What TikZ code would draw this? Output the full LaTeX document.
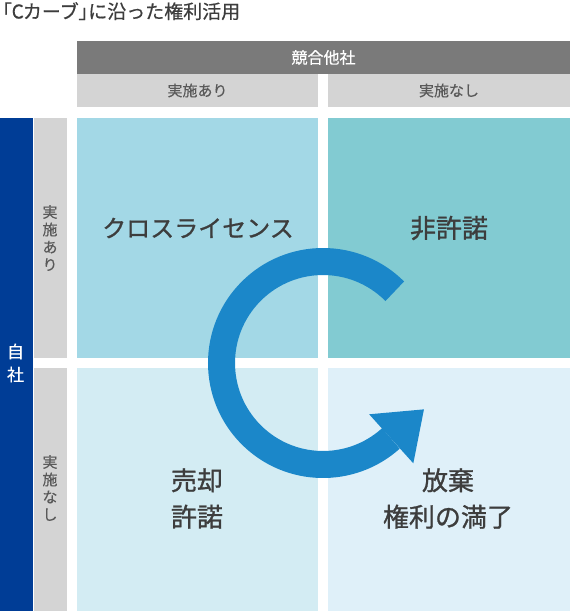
\documentclass[tikz,border=0pt]{standalone}
\usepackage{fontspec}
\setmainfont{Noto Sans CJK JP}
\newfontfamily\titlefont[FakeBold=0.6]{Noto Sans CJK JP}
\newfontfamily\bracketfont[FakeBold=0.6, RawFeature=+palt]{Noto Sans CJK JP}
\newfontfamily\labelfont[FakeBold=1.0]{Noto Sans CJK JP}
\newfontfamily\headfont[FakeBold=0.3]{Noto Sans CJK JP}
\usetikzlibrary{calc}

\definecolor{headdark}{RGB}{122,122,122}
\definecolor{headlight}{RGB}{212,212,212}
\definecolor{ownblue}{RGB}{0,61,150}
\definecolor{cellTL}{RGB}{163,216,230}
\definecolor{cellTR}{RGB}{130,203,210}
\definecolor{cellBL}{RGB}{211,236,243}
\definecolor{cellBR}{RGB}{223,240,249}
\definecolor{arrowblue}{RGB}{27,135,201}
\definecolor{labeltext}{RGB}{61,61,61}
\definecolor{subtext}{RGB}{89,89,89}

\tikzset{
  box/.style={draw=none, inner sep=0pt, outer sep=0pt},
  celllabel/.style={text=labeltext, align=center, inner sep=0pt,
    font=\labelfont\fontsize{26}{36.5}\selectfont},
  subhead/.style={text=subtext, align=center, inner sep=0pt,
    font=\headfont\fontsize{15}{17.5}\selectfont},
}

\begin{document}
\begin{tikzpicture}[x=1pt,y=-1pt]
\useasboundingbox (0,0) rectangle (570,611);

% title (brackets set proportional, half-width)
\node[anchor=base west, inner sep=0pt, text height=14.5pt, text depth=2.5pt,
      text=labeltext, font=\titlefont\fontsize{19}{22}\selectfont] (title) at (2,18.5)
  {{\bracketfont「}C\hspace{-0.05em}カーブ{\bracketfont 」}に沿った権利活用};

% competitor header
\node[box, fill=headdark, minimum width=493pt, minimum height=33pt] (comp) at (323.5,57.5) {};
\node[text=white, inner sep=0pt, font=\headfont\fontsize{16}{18}\selectfont] (complabel) at (comp.center) {競合他社};
\node[box, fill=headlight, minimum width=241pt, minimum height=33pt] (compyes) at (197.5,90.5) {};
\node[subhead] (compyeslabel) at (compyes.center) {実施あり};
\node[box, fill=headlight, minimum width=242pt, minimum height=33pt] (compno) at (449,90.5) {};
\node[subhead] (compnolabel) at (compno.center) {実施なし};

% own-company column
\node[box, fill=ownblue, minimum width=33pt, minimum height=493pt] (own) at (16.5,364.5) {};
\node[text=white, align=center, inner sep=0pt,
      font=\headfont\fontsize{17}{23}\selectfont] (ownlabel) at (15.5,363) {自\\社};
\node[box, fill=headlight, minimum width=33pt, minimum height=240pt] (ownyes) at (50.5,238) {};
\node[subhead] (ownyeslabel) at (50,238) {実\\施\\あ\\り};
\node[box, fill=headlight, minimum width=33pt, minimum height=243pt] (ownno) at (50.5,489.5) {};
\node[subhead] (ownnolabel) at (50,488) {実\\施\\な\\し};

% quadrants
\node[box, fill=cellTL, minimum width=241pt, minimum height=240pt] (tl) at (197.5,238) {};
\node[box, fill=cellTR, minimum width=242pt, minimum height=240pt] (tr) at (449,238) {};
\node[box, fill=cellBL, minimum width=241pt, minimum height=243pt] (bl) at (197.5,489.5) {};
\node[box, fill=cellBR, minimum width=242pt, minimum height=243pt] (br) at (449,489.5) {};

% cycle arrow
\coordinate (c) at (323,363);
\draw[arrowblue, line width=27pt] ($(c)+(-45:101.5)$)
  arc[start angle=-45, end angle=-312, radius=101.5];
\fill[arrowblue] ($(c)+(48:135)$) -- ($(c)+(48:102)+(-42:44)$) -- ($(c)+(48:69)$) -- cycle;

% quadrant labels
\node[celllabel, font=\labelfont\fontsize{24}{30}\selectfont] (tllabel) at (198,228) {クロスライセンス};
\node[celllabel] (trlabel) at (449,228) {非許諾};
\node[celllabel] (bllabel) at (197,498.5) {売却\\許諾};
\node[celllabel] (brlabel) at (448,498.5) {放棄\\権利の満了};
\end{tikzpicture}
\end{document}
